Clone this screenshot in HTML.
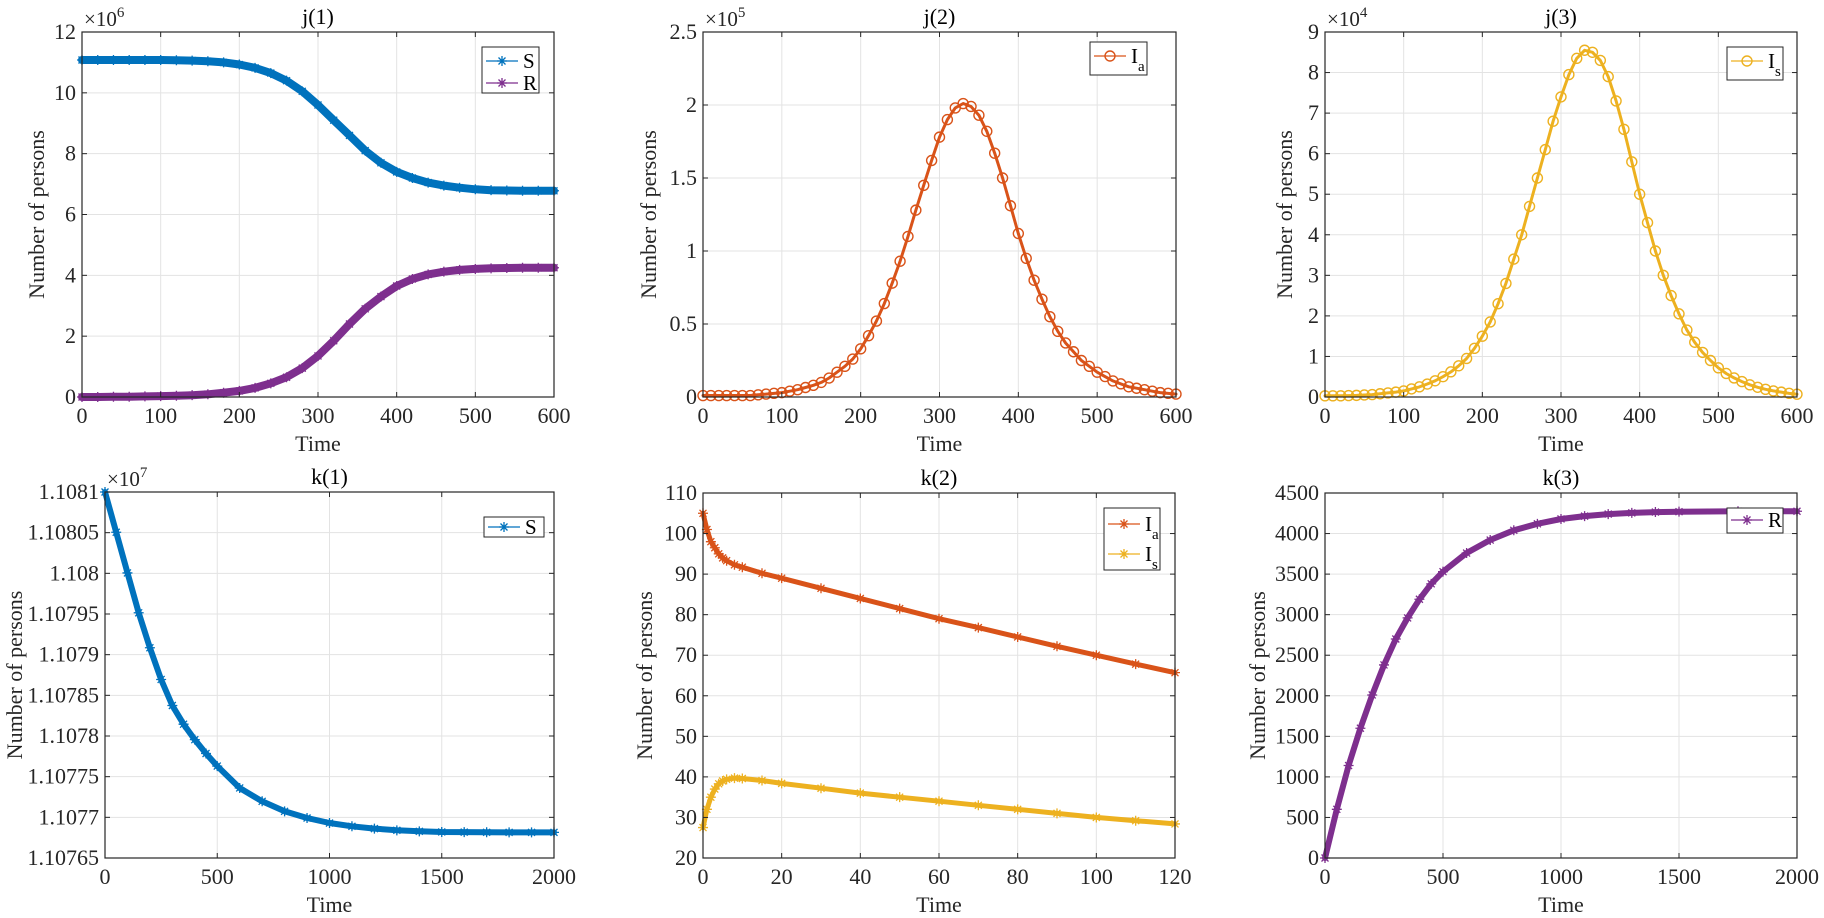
<!DOCTYPE html>
<html><head><meta charset="utf-8"><style>
html,body{margin:0;padding:0;background:#fff;}
svg{display:block;font-family:"Liberation Serif",serif;}
</style></head><body>
<svg id="fig" width="1824" height="918" viewBox="0 0 1824 918" xmlns="http://www.w3.org/2000/svg"></svg>
<script>
// ---------- data ----------
const jTime = [0,20,40,60,80,100,120,140,160,180,200,220,240,260,280,300,320,340,360,380,400,420,440,460,480,500,520,540,560,580,600];
const j1S = [11.08,11.08,11.08,11.08,11.08,11.08,11.07,11.06,11.04,11.0,10.93,10.82,10.65,10.4,10.05,9.6,9.1,8.6,8.1,7.7,7.4,7.2,7.05,6.95,6.88,6.83,6.8,6.79,6.78,6.78,6.78];
const j1R = [0.0,0.0,0.01,0.01,0.02,0.03,0.04,0.06,0.09,0.14,0.2,0.3,0.45,0.65,0.95,1.35,1.85,2.4,2.9,3.3,3.65,3.88,4.03,4.12,4.18,4.21,4.23,4.24,4.25,4.25,4.25];
const jTimeFine = [0,10,20,30,40,50,60,70,80,90,100,110,120,130,140,150,160,170,180,190,200,210,220,230,240,250,260,270,280,290,300,310,320,330,340,350,360,370,380,390,400,410,420,430,440,450,460,470,480,490,500,510,520,530,540,550,560,570,580,590,600];
const j2Ia = [0.01,0.01,0.01,0.01,0.01,0.01,0.01,0.015,0.02,0.025,0.03,0.04,0.05,0.065,0.08,0.1,0.13,0.17,0.21,0.26,0.33,0.42,0.52,0.64,0.78,0.93,1.1,1.28,1.45,1.62,1.78,1.9,1.98,2.01,1.99,1.93,1.82,1.67,1.5,1.31,1.12,0.95,0.8,0.67,0.55,0.45,0.37,0.31,0.25,0.21,0.17,0.14,0.11,0.09,0.07,0.06,0.05,0.04,0.03,0.025,0.02];
const j3Is = [0.03,0.03,0.03,0.035,0.04,0.05,0.06,0.08,0.1,0.12,0.15,0.2,0.25,0.32,0.4,0.5,0.62,0.77,0.95,1.2,1.5,1.85,2.3,2.8,3.4,4.0,4.7,5.4,6.1,6.8,7.4,7.95,8.35,8.55,8.5,8.3,7.9,7.3,6.6,5.8,5.0,4.3,3.6,3.0,2.5,2.05,1.65,1.35,1.1,0.9,0.72,0.58,0.47,0.38,0.3,0.24,0.19,0.15,0.12,0.09,0.07];
const k1Time = [0,50,100,150,200,250,300,350,400,450,500,600,700,800,900,1000,1100,1200,1300,1400,1500,1600,1700,1800,1900,2000];
const k1S = [11081000,11080505,11080005,11079515,11079085,11078695,11078375,11078145,11077955,11077785,11077630,11077361,11077197,11077074,11076992,11076930,11076890,11076861,11076840,11076828,11076820,11076818,11076816,11076815,11076815,11076815];
const k2Time = [0,1,2,3,4,5,6,8,10,15,20,30,40,50,60,70,80,90,100,110,120];
const k2Ia = [105,101,98,96.5,95,94,93.3,92.3,91.7,90.2,89,86.5,84,81.5,79,76.8,74.5,72.2,70,67.8,65.7];
const k2Is = [27.5,32,35,37,38.3,39,39.4,39.7,39.6,39.1,38.4,37.2,36,35,34,33,32,31,30,29.2,28.4];
const k3Time = [0,50,100,150,200,250,300,350,400,450,500,600,700,800,900,1000,1100,1200,1300,1400,1500,1750,2000];
const k3R = [0,600,1140,1600,2010,2380,2700,2960,3190,3380,3530,3760,3920,4040,4120,4180,4215,4240,4255,4265,4270,4275,4275];
const jXTicks = [0,100,200,300,400,500,600];
const kXTicks = [0,500,1000,1500,2000];
const k2XTicks = [0,20,40,60,80,100,120];
const j1YTicks = [0,2,4,6,8,10,12];
const j2YTicks = [0,0.5,1,1.5,2,2.5];
const j3YTicks = [0,1,2,3,4,5,6,7,8,9];
const k1YTicks = [11076500,11077000,11077500,11078000,11078500,11079000,11079500,11080000,11080500,11081000];
const k1YLabels = ["1.10765","1.1077","1.10775","1.1078","1.10785","1.1079","1.10795","1.108","1.10805","1.1081"];
const k2YTicks = [20,30,40,50,60,70,80,90,100,110];
const k3YTicks = [0,500,1000,1500,2000,2500,3000,3500,4000,4500];

const NS="http://www.w3.org/2000/svg";
const svg=document.getElementById('fig');
function mk(tag,attrs,parent){const e=document.createElementNS(NS,tag);for(const k in attrs)e.setAttribute(k,attrs[k]);(parent||svg).appendChild(e);return e;}
const AX="#262626", GRID="#e3e3e3";
const C={blue:"#0072BD",purple:"#7E2F8E",orange:"#D95319",yellow:"#EDB120"};

function star(g,x,y,col,s){
  const d=`M${x-s},${y}H${x+s}M${x},${y-s}V${y+s}M${x-s*0.7},${y-s*0.7}L${x+s*0.7},${y+s*0.7}M${x-s*0.7},${y+s*0.7}L${x+s*0.7},${y-s*0.7}`;
  const p=mk('path',{d:d,stroke:col,'stroke-width':1.3,fill:'none'},g);
  
  
}
function ring(g,x,y,col,r){
  const c=mk('circle',{cx:x,cy:y,r:r,stroke:col,'stroke-width':1.4,fill:'none'},g);
  
  
}

function panel(o){
  const g=mk('g',{});
  
  
  const {L,R,T,B}=o;
  const sx=v=>L+(v-o.xmin)/(o.xmax-o.xmin)*(R-L);
  const sy=v=>B-(v-o.ymin)/(o.ymax-o.ymin)*(B-T);
  o.xticks.forEach(v=>{const l=mk('line',{x1:sx(v),x2:sx(v),y1:T,y2:B,stroke:GRID,'stroke-width':1},g);});
  o.yticks.forEach(v=>{const l=mk('line',{x1:L,x2:R,y1:sy(v),y2:sy(v),stroke:GRID,'stroke-width':1},g);});
  o.series.forEach(s=>{
    const sg=mk('g',{},g);
    
    
    const pts=s.x.map((x,i)=>sx(x).toFixed(1)+','+sy(s.y[i]).toFixed(1)).join(' ');
    const pl=mk('polyline',{points:pts,fill:'none',stroke:s.col,'stroke-width':s.w,'stroke-linejoin':'round','stroke-linecap':'round'},sg);
    
    
    s.x.forEach((x,i)=>{ if(s.m==='o') ring(sg,sx(x),sy(s.y[i]),s.col,5); else star(sg,sx(x),sy(s.y[i]),s.col,5); });
  });
  const bx=mk('rect',{x:L,y:T,width:R-L,height:B-T,fill:'none',stroke:AX,'stroke-width':1.2},g);
  
  
  o.xticks.forEach((v,i)=>{
    mk('line',{x1:sx(v),x2:sx(v),y1:B,y2:B-5,stroke:AX},g);
    mk('line',{x1:sx(v),x2:sx(v),y1:T,y2:T+5,stroke:AX},g);
    const t=mk('text',{x:sx(v),y:B+26,'font-size':22,'text-anchor':'middle',fill:AX},g);
    t.textContent=String(v);
    
    
  });
  o.yticks.forEach((v,i)=>{
    mk('line',{x1:L,x2:L+5,y1:sy(v),y2:sy(v),stroke:AX},g);
    mk('line',{x1:R,x2:R-5,y1:sy(v),y2:sy(v),stroke:AX},g);
    const t=mk('text',{x:L-6,y:sy(v)+7,'font-size':22,'text-anchor':'end',fill:AX},g);
    t.textContent=o.ylabels?o.ylabels[i]:String(v);
    
    
  });
  const ti=mk('text',{x:(L+R)/2,y:T-8,'font-size':22,'text-anchor':'middle',fill:'#000'},g);
  ti.textContent=o.title;
  
  
  const xl=mk('text',{x:(L+R)/2,y:B+54,'font-size':22,'text-anchor':'middle',fill:AX},g);
  xl.textContent='Time';
  
  
  const yc=(T+B)/2;
  const yl=mk('text',{x:o.ylx,y:yc,'font-size':22,'text-anchor':'middle',fill:AX,transform:`rotate(-90 ${o.ylx} ${yc})`},g);
  yl.textContent='Number of persons';
  
  
  if(o.exp){
    const ex=mk('text',{x:L+2,y:T-6,'font-size':21,fill:AX},g);
    
    
    ex.appendChild(document.createTextNode('×10'));
    const sp=mk('tspan',{'font-size':15,dy:-9},ex); sp.textContent=o.exp;
  }
  const lg=o.legend;
  const lgg=mk('g',{},g);
  
  
  mk('rect',{x:lg.x,y:lg.y,width:lg.w,height:lg.h,fill:'#fff',stroke:AX,'stroke-width':1},lgg);
  lg.items.forEach((it,i)=>{
    const yy=lg.y+lg.first+i*lg.step;
    const eg=mk('g',{},lgg);
    
    
    mk('line',{x1:lg.x+4,x2:lg.x+36,y1:yy,y2:yy,stroke:it.col,'stroke-width':1.3},eg);
    if(it.m==='o') ring(eg,lg.x+20,yy,it.col,5); else star(eg,lg.x+20,yy,it.col,5);
    const t=mk('text',{x:lg.x+41,y:yy+7,'font-size':21,fill:'#000'},eg);
    t.appendChild(document.createTextNode(it.label));
    if(it.sub){const s=mk('tspan',{'font-size':15,dy:8},t); s.textContent=it.sub;}
  });
}

panel({name:'panel-j1',title:'j(1)',L:82,R:554,T:32,B:397,xmin:0,xmax:600,ymin:0,ymax:12,xticks:jXTicks,yticks:j1YTicks,exp:'6',ylx:44,
  series:[{name:'series-S',x:jTime,y:j1S,col:C.blue,m:'*',w:8},{name:'series-R',x:jTime,y:j1R,col:C.purple,m:'*',w:8}],
  legend:{x:482,y:47,w:57,h:46,first:14,step:22,items:[{label:'S',col:C.blue,m:'*'},{label:'R',col:C.purple,m:'*'}]}});
panel({name:'panel-j2',title:'j(2)',L:703,R:1176,T:32,B:397,xmin:0,xmax:600,ymin:0,ymax:2.5,xticks:jXTicks,yticks:j2YTicks,exp:'5',ylx:656,
  series:[{name:'series-Ia',x:jTimeFine,y:j2Ia,col:C.orange,m:'o',w:3}],
  legend:{x:1090,y:42,w:57,h:33,first:14,step:22,items:[{label:'I',sub:'a',col:C.orange,m:'o'}]}});
panel({name:'panel-j3',title:'j(3)',L:1325,R:1797,T:32,B:397,xmin:0,xmax:600,ymin:0,ymax:9,xticks:jXTicks,yticks:j3YTicks,exp:'4',ylx:1292,
  series:[{name:'series-Is',x:jTimeFine,y:j3Is,col:C.yellow,m:'o',w:3}],
  legend:{x:1727,y:47,w:56,h:33,first:14,step:22,items:[{label:'I',sub:'s',col:C.yellow,m:'o'}]}});
panel({name:'panel-k1',title:'k(1)',L:105,R:554,T:492,B:858,xmin:0,xmax:2000,ymin:11076500,ymax:11081000,xticks:kXTicks,yticks:k1YTicks,ylabels:k1YLabels,exp:'7',ylx:22,
  series:[{name:'series-S',x:k1Time,y:k1S,col:C.blue,m:'*',w:6}],
  legend:{x:484,y:517,w:60,h:20,first:10,step:22,items:[{label:'S',col:C.blue,m:'*'}]}});
panel({name:'panel-k2',title:'k(2)',L:703,R:1175,T:493,B:858,xmin:0,xmax:120,ymin:20,ymax:110,xticks:k2XTicks,yticks:k2YTicks,ylx:652,
  series:[{name:'series-Ia',x:k2Time,y:k2Ia,col:C.orange,m:'*',w:5},{name:'series-Is',x:k2Time,y:k2Is,col:C.yellow,m:'*',w:5}],
  legend:{x:1104,y:508,w:56,h:62,first:16,step:30,items:[{label:'I',sub:'a',col:C.orange,m:'*'},{label:'I',sub:'s',col:C.yellow,m:'*'}]}});
panel({name:'panel-k3',title:'k(3)',L:1325,R:1797,T:493,B:858,xmin:0,xmax:2000,ymin:0,ymax:4500,xticks:kXTicks,yticks:k3YTicks,ylx:1265,
  series:[{name:'series-R',x:k3Time,y:k3R,col:C.purple,m:'*',w:6}],
  legend:{x:1727,y:508,w:56,h:25,first:12,step:22,items:[{label:'R',col:C.purple,m:'*'}]}});
</script>
</body></html>
